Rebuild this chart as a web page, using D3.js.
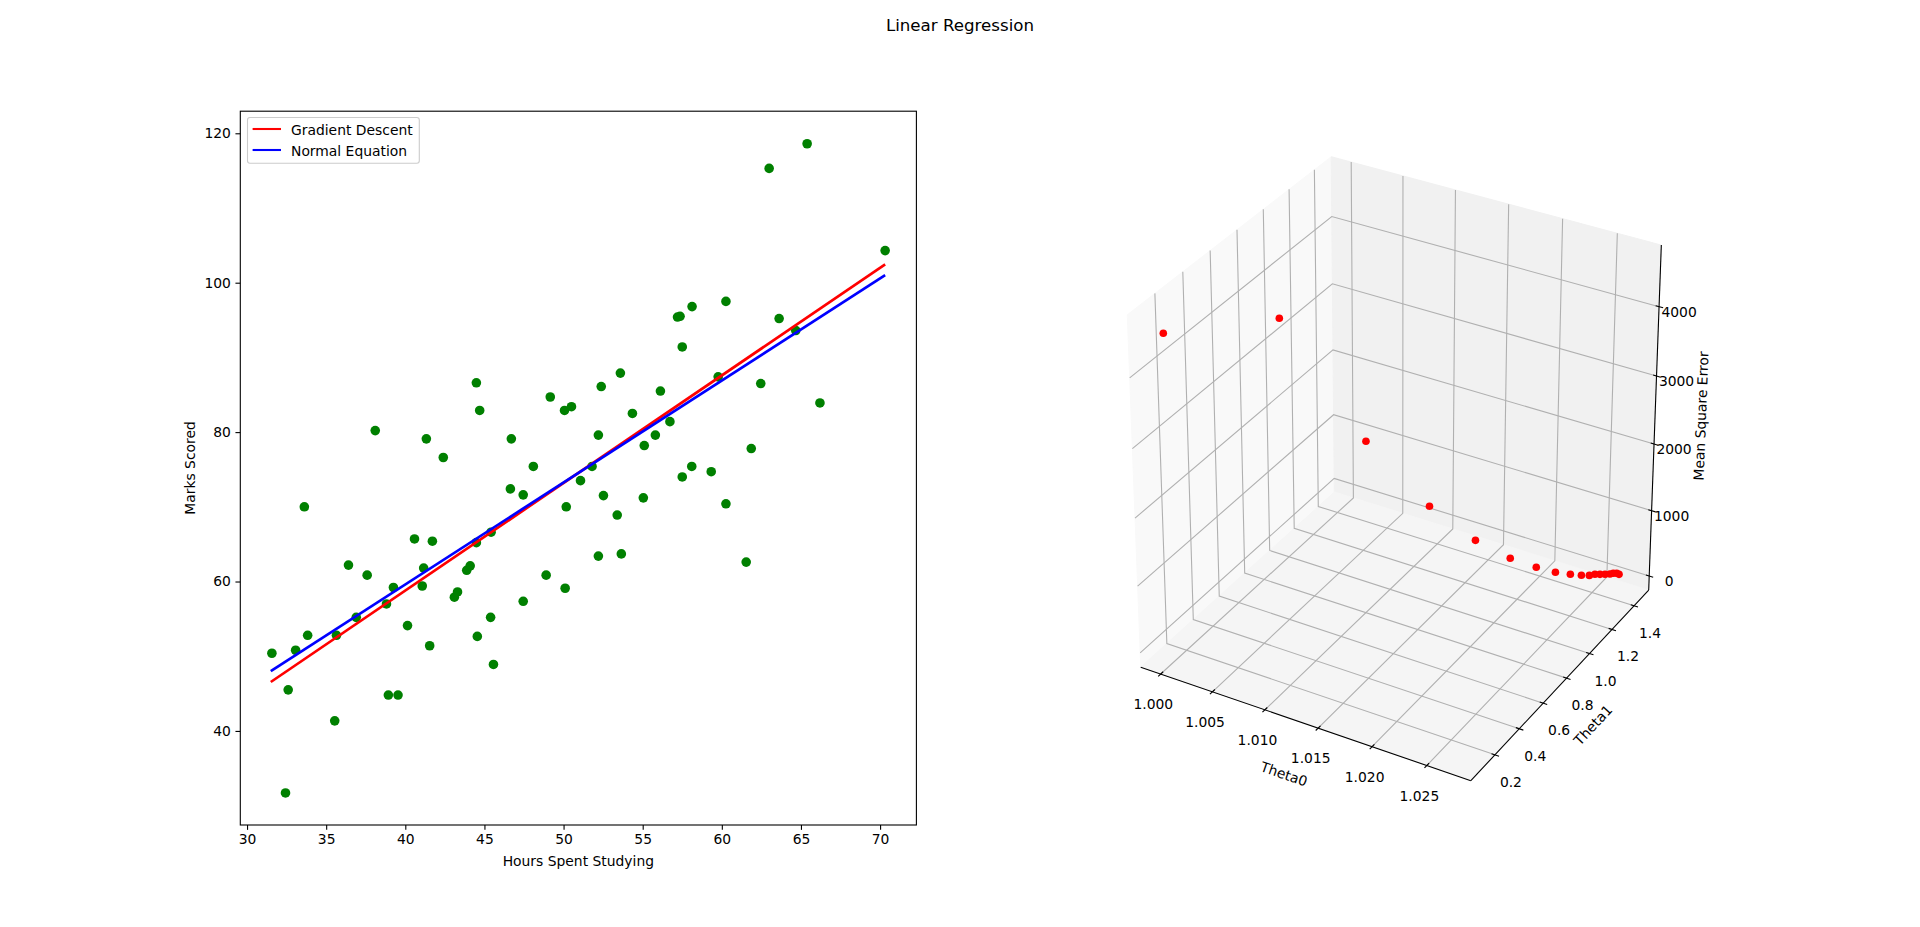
<!DOCTYPE html><html><head><meta charset="utf-8"><script src="https://cdn.jsdelivr.net/npm/d3@7"></script>
<style>html,body{margin:0;background:#fff}svg{display:block}text{font-family:"DejaVu Sans";fill:#000}</style></head><body><svg id="c" width="1920" height="927"></svg><script>
const hours=[65.39,62.99,70.32,58.12,57.36,57.2,60.26,63.62,64.67,57.5,59.77,53.59,52.38,62.46,44.49,49.16,50.5,50.06,44.7,56.12,54.35,56.72,66.2,38.1,41.33,46.7,42.4,52.2,55.8,55.1,61.86,58.1,48.09,51.8,59.33,57.5,51.07,46.64,47.45,50.17,52.52,55.04,60.26,53.39,33.62,40.58,41.71,45.42,44.49,36.41,37.59,41.16,44.1,43.88,52.2,53.65,61.54,48.9,50.1,39.25,41.07,38.81,43.3,43.1,47.45,36.9,45.39,40.14,35.65,33.83,44.55,33.07,31.57,41.54,45.57,32.6,38.93,39.54,35.54,32.43];
const marks=[118.6,115.3,104.3,96.8,95.5,95.4,97.5,95.2,93.6,91.4,87.4,87.9,86.1,86.5,86.6,84.7,83.4,82.9,82.9,85.5,82.5,81.4,83.9,80.2,79.1,79.1,76.6,79.6,79.6,78.2,77.8,75.4,75.4,75.4,74.7,74.0,73.5,72.4,71.6,70.0,71.5,71.2,70.4,68.9,70.0,65.7,65.4,66.6,65.2,62.2,60.85,61.8,62.1,61.5,63.4,63.7,62.6,60.85,59.1,59.2,59.4,57.0,58.6,57.9,57.35,55.2,55.2,54.1,52.8,52.8,52.65,50.8,50.4,51.4,48.9,45.5,44.8,44.8,41.35,31.7];
const lineHours=[31.5,70.32];
const gradientFit=[46.55,102.45];
const normalFit=[48.0,101.0];
const xTicks=[30,35,40,45,50,55,60,65,70];
const yTicks=[40,60,80,100,120];
const theta0=[1.00003,1.00663,1.01158,1.01536,1.01816,1.0203,1.02191,1.0231,1.02403,1.02472,1.02522,1.02556,1.02588,1.02619,1.0265,1.02671,1.02692,1.02707];
const theta1=[0.104,0.43,0.675,0.862,1.0,1.106,1.186,1.245,1.291,1.325,1.349,1.367,1.382,1.398,1.413,1.423,1.434,1.441];
const mse=[4554,4550,2639,1553,943,593,396,276,210,170,151,153,142,131,124,127,118,97];
const theta0Ticks=[1.000,1.005,1.010,1.015,1.020,1.025];
const theta1Ticks=[0.2,0.4,0.6,0.8,1.0,1.2,1.4];
const mseTicks=[0,1000,2000,3000,4000];
const svg=d3.select('#c');
svg.append('text').attr('x',960).attr('y',25).attr('text-anchor','middle').attr('dominant-baseline','central').attr('font-size',16.67).text('Linear Regression');
// left
const L=240.3,R=916.4,T=111.2,B=825;
const x=d3.scaleLinear([29.58,72.32],[240.4,R+.4]),y=d3.scaleLinear([27.3,122.85],[B+.8,T+.8]);
const gx=svg.append('g').attr('transform',`translate(0,${B})`).call(d3.axisBottom(x).tickValues(xTicks).tickFormat(d3.format('d')).tickSize(4.86).tickPadding(4.5).tickSizeOuter(0));
const gy=svg.append('g').attr('transform',`translate(${L},0)`).call(d3.axisLeft(y).tickValues(yTicks).tickFormat(d3.format('d')).tickSize(4.86).tickPadding(4.5).tickSizeOuter(0));
[gx,gy].forEach(g=>{g.select('.domain').remove();g.selectAll('line').attr('stroke','#000').attr('stroke-width',1.1);g.selectAll('text').attr('font-family','DejaVu Sans').attr('font-size',13.89);});
svg.append('g').selectAll('circle').data(hours).join('circle').attr('cx',d=>x(d)).attr('cy',(d,i)=>y(marks[i])).attr('r',4.8).attr('fill','#008000');
const ln=d3.line().x((d,i)=>x(lineHours[i])).y(d=>y(d));
svg.append('path').attr('d',ln(gradientFit)).attr('fill','none').attr('stroke','#f00').attr('stroke-width',2.7);
svg.append('path').attr('d',ln(normalFit)).attr('fill','none').attr('stroke','#00f').attr('stroke-width',2.7);
svg.append('rect').attr('x',L).attr('y',T).attr('width',R-L).attr('height',B-T).attr('fill','none').attr('stroke','#000').attr('stroke-width',1.1);
svg.append('text').attr('x',(L+R)/2).attr('y',861).attr('text-anchor','middle').attr('dominant-baseline','central').attr('font-size',13.89).text('Hours Spent Studying');
svg.append('text').attr('transform','translate(190,468) rotate(-90)').attr('text-anchor','middle').attr('dominant-baseline','central').attr('font-size',13.89).text('Marks Scored');
const lg=svg.append('g');
lg.append('rect').attr('x',247.5).attr('y',117.5).attr('width',171.8).attr('height',45.8).attr('rx',2.5).attr('fill','#fff').attr('fill-opacity',.8).attr('stroke','#ccc').attr('stroke-width',1.1);
[['Gradient Descent','#f00',129],['Normal Equation','#00f',150]].forEach(([t,c,yy])=>{
 lg.append('line').attr('x1',252.6).attr('x2',281).attr('y1',yy).attr('y2',yy).attr('stroke',c).attr('stroke-width',2.08);
 lg.append('text').attr('x',291).attr('y',yy+1).attr('dominant-baseline','central').attr('font-size',13.89).text(t);});
// right: 3D
const ux=d3.scaleLinear([0.99805,1.02897],[0,1]),uy=d3.scaleLinear([0.006,1.535],[0,1]),uz=d3.scaleLinear([-216,4873],[0,1]);
const n=[.433013,-.75,.5],u=[.866025,.5,0],v=[-.25,.433013,.866025];
const dot=(a,b)=>a[0]*b[0]+a[1]*b[1]+a[2]*b[2];
const sx=d3.scaleLinear([-.0712,.0689],[1127.3,1661.2]),sy=d3.scaleLinear([-.0802,.0749],[780.7,156.7]);
function P(p){const d=[p[0]-.5,p[1]-.5,p[2]-.5];const w=10-dot(n,d);return [sx(dot(u,d)/w),sy(dot(v,d)/w)];}
const path=pts=>d3.line()(pts.map(P));
const g3=svg.append('g');
[[[0,0,0],[0,1,0],[0,1,1],[0,0,1],'#f9f9f9'],[[0,1,0],[1,1,0],[1,1,1],[0,1,1],'#f1f1f1'],[[0,0,0],[1,0,0],[1,1,0],[0,1,0],'#f5f5f5']].forEach(q=>{
 const c=q[4];g3.append('path').attr('d',path(q.slice(0,4))+'Z').attr('fill',c).attr('stroke',c).attr('stroke-width',1);});
const grid=pts=>g3.append('path').attr('d',path(pts)).attr('fill','none').attr('stroke','#b0b0b0').attr('stroke-width',1.1);
theta0Ticks.forEach(t=>{const a=ux(t);grid([[a,0,0],[a,1,0],[a,1,1]]);});
theta1Ticks.forEach(t=>{const a=uy(t);grid([[1,a,0],[0,a,0],[0,a,1]]);});
mseTicks.forEach(t=>{const a=uz(t);grid([[0,0,a],[0,1,a],[1,1,a]]);});
const blk=pts=>g3.append('path').attr('d',path(pts)).attr('fill','none').attr('stroke','#000').attr('stroke-width',1.1);
blk([[0,0,0],[1,0,0]]);blk([[1,0,0],[1,1,0]]);blk([[1,1,0],[1,1,1]]);
const lab=(p,dx,dy,t)=>{const q=P(p);g3.append('text').attr('x',q[0]+dx).attr('y',q[1]+dy).attr('text-anchor','middle').attr('dominant-baseline','central').attr('font-size',13.89).text(t);};
theta0Ticks.forEach(t=>{const a=ux(t);blk([[a,.012,0],[a,-.012,0]]);lab([a,0,0],-7.4,30.3,d3.format('.3f')(t));});
theta1Ticks.forEach(t=>{const a=uy(t);blk([[.99,a,0],[1.012,a,0]]);lab([1,a,0],16,27,d3.format('.1f')(t));});
mseTicks.forEach(t=>{const a=uz(t);blk([[.99,1,a],[1.012,1,a]]);lab([1,1,a],20,5,d3.format('d')(t));});
const rot=(x,y,a,t)=>g3.append('text').attr('transform',`translate(${x},${y}) rotate(${a})`).attr('text-anchor','middle').attr('dominant-baseline','central').attr('font-size',13.89).text(t);
rot(1284,774,19,'Theta0');rot(1593,725,-47,'Theta1');rot(1701,416,-87.8,'Mean Square Error');
g3.append('g').selectAll('circle').data(theta0).join('circle').each(function(d,i){const q=P([ux(d),uy(theta1[i]),uz(mse[i])]);d3.select(this).attr('cx',q[0]).attr('cy',q[1]);}).attr('r',3.8).attr('fill','#f00');
</script></body></html>
